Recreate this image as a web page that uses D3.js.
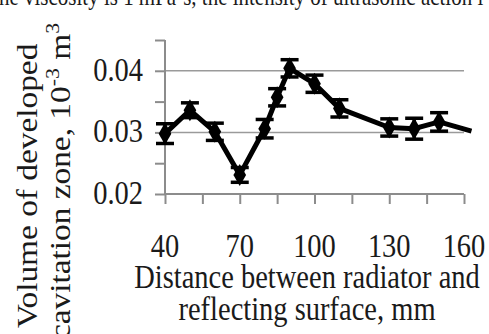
<!DOCTYPE html>
<html>
<head>
<meta charset="utf-8">
<script src="https://cdn.jsdelivr.net/npm/d3@7"></script>
<style>
    body { margin: 0; background: #fff; overflow: hidden }
    text { font-family: 'Liberation Serif', 'Times New Roman', serif; fill: #1a1a1a }
</style>
</head>
<body>
<div id="chart"></div>
<script>
// distance between radiator and reflecting surface, mm
var distance = [40, 50, 60, 70, 80, 85, 90, 100, 110, 130, 140, 150, 163]
// volume of developed cavitation zone
var volume = [0.0298, 0.0336, 0.0301, 0.0231, 0.0306, 0.0357, 0.0404, 0.0379, 0.0339, 0.0308, 0.0306, 0.0317, 0.0302]
// error bar half widths (last point has no marker)
var errors = [0.0016, 0.0012, 0.0014, 0.0012, 0.0015, 0.0014, 0.0014, 0.0014, 0.0014, 0.0014, 0.0017, 0.0015, null]

var xTickLabels = [40, 70, 100, 130, 160]
var yTickLabels = [0.02, 0.03, 0.04]
var yGrid = [0.03, 0.04]

var width = 489
var height = 334
var stretch = 1.15   // the picture is a bit taller than wide

var x = d3.scaleLinear().domain([40, 160]).range([165, 464])
var y = d3.scaleLinear().domain([0.02, 0.045]).range([194, 40])

var svg = d3.select('#chart')
    .append('svg')
    .attr('width', width)
    .attr('height', height)

// cut off body text above the figure
svg.append('text')
    .attr('transform', 'translate(-1,5) scale(1,' + stretch + ')')
    .style('font-size', '21px')
    .text('he viscosity is 1 mPa·s, the intensity of ultrasonic action i')

// gridlines
svg.selectAll('.grid')
    .data(yGrid)
    .enter().append('line')
    .attr('x1', x(40)).attr('x2', x(160))
    .attr('y1', function (d) { return y(d) }).attr('y2', function (d) { return y(d) })
    .style('stroke', '#9a9a9a')
    .style('stroke-width', 1.5)

// axes
var gy = svg.append('g')
    .attr('transform', 'translate(' + x(40) + ',0)')
    .call(d3.axisLeft(y).tickValues(d3.range(0.02, 0.0451, 0.005)).tickSize(10).tickFormat(''))
var gx = svg.append('g')
    .attr('transform', 'translate(0,' + y(0.02) + ')')
    .call(d3.axisBottom(x).tickValues(d3.range(40, 161, 15)).tickSize(10).tickFormat(''))
svg.selectAll('.domain, .tick line')
    .style('stroke', '#8c8c8c')
    .style('stroke-width', 2)
gy.select('.domain').attr('d', 'M0,' + y(0.045) + 'V' + y(0.02))
gx.select('.domain').attr('d', 'M' + x(40) + ',0H' + x(160))

// tick labels
svg.selectAll('.ylab')
    .data(yTickLabels)
    .enter().append('text')
    .attr('transform', function (d) { return 'translate(143,' + (y(d) + 10) + ') scale(1,' + stretch + ')' })
    .style('font-size', '28.5px')
    .style('text-anchor', 'end')
    .text(function (d) { return d.toFixed(2) })
svg.selectAll('.xlab')
    .data(xTickLabels)
    .enter().append('text')
    .attr('transform', function (d) { return 'translate(' + x(d) + ',257) scale(1,' + stretch + ')' })
    .style('font-size', '28.5px')
    .style('text-anchor', 'middle')
    .text(function (d) { return d })

// axis titles
svg.append('text')
    .attr('transform', 'translate(307,288) scale(1,' + stretch + ')')
    .style('font-size', '28.5px')
    .style('text-anchor', 'middle')
    .text('Distance between radiator and')
svg.append('text')
    .attr('transform', 'translate(307,320) scale(1,' + stretch + ')')
    .style('font-size', '28.5px')
    .style('text-anchor', 'middle')
    .text('reflecting surface, mm')

svg.append('text')
    .attr('transform', 'translate(37,186) scale(1,' + stretch + ') rotate(-90)')
    .style('font-size', '29px')
    .style('text-anchor', 'middle')
    .text('Volume of developed')
var t2 = svg.append('text')
    .attr('transform', 'translate(70,181) scale(1,' + stretch + ') rotate(-90)')
    .style('font-size', '29px')
    .style('text-anchor', 'middle')
t2.append('tspan').text('cavitation zone, 10')
t2.append('tspan').attr('dy', -11).style('font-size', '19px').text('-3')
t2.append('tspan').attr('dy', 11).text(' m')
t2.append('tspan').attr('dy', -11).style('font-size', '19px').text('3')

// data
var data = distance.map(function (d, i) {
    return { dist: d, vol: volume[i], err: errors[i] }
})

svg.append('path')
    .datum(data)
    .attr('d', d3.line()
        .x(function (d) { return x(d.dist) })
        .y(function (d) { return y(d.vol) }))
    .style('fill', 'none')
    .style('stroke', '#000')
    .style('stroke-width', 5)
    .style('stroke-linejoin', 'round')

var withErr = data.filter(function (d) { return d.err !== null })
var bars = svg.selectAll('.err')
    .data(withErr)
    .enter().append('g')
    .style('stroke', '#000')
    .style('stroke-width', 3.5)
bars.append('line')
    .attr('x1', function (d) { return x(d.dist) }).attr('x2', function (d) { return x(d.dist) })
    .attr('y1', function (d) { return y(d.vol + d.err) }).attr('y2', function (d) { return y(d.vol - d.err) })
bars.selectAll('.cap')
    .data(function (d) { return [d.vol + d.err, d.vol - d.err].map(function (v) { return { dist: d.dist, v: v } }) })
    .enter().append('line')
    .attr('x1', function (d) { return x(d.dist) - 9 }).attr('x2', function (d) { return x(d.dist) + 9 })
    .attr('y1', function (d) { return y(d.v) }).attr('y2', function (d) { return y(d.v) })

svg.selectAll('.marker')
    .data(withErr)
    .enter().append('path')
    .attr('transform', function (d) { return 'translate(' + x(d.dist) + ',' + y(d.vol) + ')' })
    .attr('d', d3.symbol().type(d3.symbolDiamond).size(140))
    .style('fill', '#000')
</script>
</body>
</html>
